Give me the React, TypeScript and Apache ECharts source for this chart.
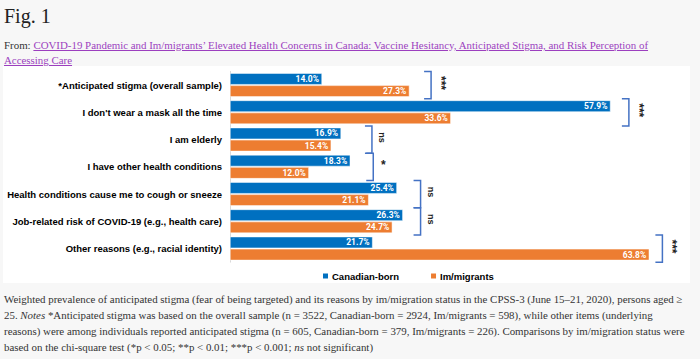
import React, { useEffect, useRef } from "react";
import * as echarts from "echarts";

const categories = [
  "*Anticipated stigma (overall sample)",
  "I don't wear a mask all the time",
  "I am elderly",
  "I have other health conditions",
  "Health conditions cause me to cough or sneeze",
  "Job-related risk of COVID-19 (e.g., health care)",
  "Other reasons (e.g., racial identity)",
];
const canadianBorn = [14.0, 57.9, 16.9, 18.3, 25.4, 26.3, 21.7];
const immigrants = [27.3, 33.6, 15.4, 12.0, 21.1, 24.7, 63.8];
const significance = ["***", "***", "ns", "*", "ns", "ns", "***"];
const bracketAt = [30.6, 60.7, 21.6, 21.8, 29.0, 29.0, 65.8];
const seriesNames = ["Canadian-born", "Im/migrants"];

const BLUE = "#0070c0";
const ORANGE = "#ed7d31";

function Chart() {
  const ref = useRef<HTMLDivElement>(null);
  useEffect(() => {
    if (!ref.current) return;
    const chart = echarts.init(ref.current, undefined, { renderer: "svg" });
    const labelStyle = {
      show: true,
      position: "insideRight",
      formatter: (p: any) => p.value.toFixed(1) + "%",
      color: "#fff",
      fontWeight: "bold",
      fontSize: 8.5,
      fontFamily: "Roboto",
      distance: 3,
    };
    chart.setOption({
      animation: false,
      backgroundColor: "#ffffff",
      grid: { left: 227, top: 5.4, width: 475.3, height: 190.75, containLabel: false },
      xAxis: {
        type: "value",
        min: 0,
        max: 70,
        show: false,
      },
      yAxis: {
        type: "category",
        data: categories,
        inverse: true,
        axisLine: { show: true, lineStyle: { color: "#d9d9d9" } },
        axisTick: { show: false },
        axisLabel: {
          margin: 8,
          color: "#000",
          fontWeight: "bold",
          fontSize: 9.5,
          fontFamily: "Liberation Sans",
        },
      },
      legend: {
        left: 318,
        top: 205,
        padding: 0,
        itemWidth: 7,
        itemHeight: 7,
        itemGap: 30,
        icon: "rect",
        data: seriesNames,
        textStyle: {
          color: "#000",
          fontWeight: "bold",
          fontSize: 9.5,
          fontFamily: "Liberation Sans",
          padding: [0, 0, 0, -2],
        },
      },
      series: [
        {
          name: seriesNames[0],
          type: "bar",
          data: canadianBorn,
          barWidth: 11.5,
          barGap: "6%",
          itemStyle: { color: BLUE, borderColor: "#ffffff", borderWidth: 0.5 },
          label: labelStyle,
        },
        {
          name: seriesNames[1],
          type: "bar",
          data: immigrants,
          barWidth: 11.5,
          barGap: "6%",
          itemStyle: { color: ORANGE, borderColor: "#ffffff", borderWidth: 0.5 },
          label: labelStyle,
        },
        {
          type: "custom",
          clip: false,
          silent: true,
          data: bracketAt.map((v, i) => [v, i]),
          renderItem: (params: any, api: any) => {
            const p = api.coord([api.value(0), api.value(1)]);
            const band = api.size([0, 1])[1];
            const half = band * 0.5;
            const mark = significance[params.dataIndex];
            return {
              type: "group",
              children: [
                {
                  type: "polyline",
                  shape: {
                    points: [
                      [p[0] - 7, p[1] - half],
                      [p[0], p[1] - half],
                      [p[0], p[1] + half],
                      [p[0] - 7, p[1] + half],
                    ],
                  },
                  style: { stroke: "#4472c4", lineWidth: 1.5, fill: null },
                },
                {
                  type: "text",
                  x: p[0] + 10,
                  y: p[1] - 2,
                  rotation: mark === "*" ? 0 : -Math.PI / 2,
                  style: {
                    text: mark,
                    fill: "#222",
                    fontSize: mark === "ns" ? 9 : 12,
                    fontWeight: "bold",
                    fontFamily: "Liberation Sans",
                    align: "center",
                    verticalAlign: "middle",
                  },
                },
              ],
            };
          },
        },
      ],
    });
    return () => chart.dispose();
  }, []);
  return (
    <div
      ref={ref}
      style={{ position: "absolute", left: 3, top: 66, width: 687, height: 217 }}
    />
  );
}

export default function App() {
  const serif = "'Liberation Serif', 'DejaVu Serif', serif";
  return (
    <div
      style={{
        position: "fixed",
        left: 0,
        top: 0,
        width: 700,
        height: 359,
        background: "#f7f7f7",
        overflow: "hidden",
        fontFamily: serif,
        color: "#333",
      }}
    >
      <div style={{ position: "absolute", left: 4, top: 5, fontSize: 20, color: "#222" }}>Fig. 1</div>
      <div
        style={{
          position: "absolute",
          left: 4,
          top: 38,
          fontSize: 10.9,
          lineHeight: "15px",
          whiteSpace: "nowrap",
        }}
      >
        From:{" "}
        <span style={{ color: "#9c3fbf", textDecoration: "underline" }}>
          COVID-19 Pandemic and Im/migrants’ Elevated Health Concerns in Canada: Vaccine Hesitancy, Anticipated Stigma, and Risk Perception of
        </span>
        <br />
        <span style={{ color: "#9c3fbf", textDecoration: "underline" }}>Accessing Care</span>
      </div>
      <Chart />
      <div
        style={{
          position: "absolute",
          left: 4,
          top: 291,
          fontSize: 10.9,
          lineHeight: "16px",
          whiteSpace: "nowrap",
        }}
      >
        Weighted prevalence of anticipated stigma (fear of being targeted) and its reasons by im/migration status in the CPSS-3 (June 15–21, 2020), persons aged ≥
        <br />
        25. <i>Notes</i> *Anticipated stigma was based on the overall sample (n = 3522, Canadian-born = 2924, Im/migrants = 598), while other items (underlying
        <br />
        reasons) were among individuals reported anticipated stigma (n = 605, Canadian-born = 379, Im/migrants = 226). Comparisons by im/migration status were
        <br />
        based on the chi-square test (*p &lt; 0.05; **p &lt; 0.01; ***p &lt; 0.001; <i>ns</i> not significant)
      </div>
    </div>
  );
}
